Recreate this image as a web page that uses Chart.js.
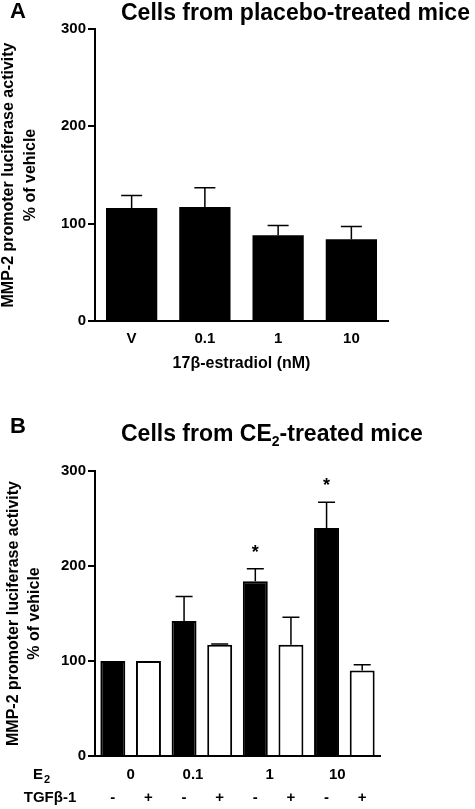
<!DOCTYPE html>
<html>
<head>
<meta charset="utf-8">
<script src="https://cdn.jsdelivr.net/npm/chart.js@4/dist/chart.umd.min.js"></script>
<style>
  html, body { margin: 0; padding: 0; background: #fff; }
  #wrap { position: relative; width: 475px; height: 809px; }
  canvas { position: absolute; left: 0; }
</style>
</head>
<body>
<div id="wrap">
  <canvas id="chartA" width="475" height="400" style="top:0"></canvas>
  <canvas id="chartB" width="475" height="409" style="top:400px"></canvas>
</div>
<script>
// --- Panel A: cells from placebo-treated mice ---
const doseLabels = ['V', '0.1', '1', '10'];
const placeboMeans = [116, 117, 88, 84];
const placeboErrTop = [129, 137, 98, 97];   // mean + SEM

// --- Panel B: cells from CE2-treated mice ---
const ce2Labels = ['0 -', '0 +', '0.1 -', '0.1 +', '1 -', '1 +', '10 -', '10 +'];
const ce2Means = [100, 100, 142, 117, 184, 117, 240, 90];
const ce2ErrTop = [null, null, 168, 118, 197, 146, 267, 96];
const tgfSigns = ['-', '+', '-', '+', '-', '+', '-', '+'];
const e2Doses = ['0', '0.1', '1', '10'];
const e2DosePos = [0.5, 2.25, 4.4, 6.3];   // where the dose label sits along the bar index axis
const starredBars = [4, 6];

const yTicks = [0, 100, 200, 300];

const FONT = "'Liberation Sans', Arial, Helvetica, sans-serif";

function bold(size) { return 'bold ' + size + 'px ' + FONT; }

// error bars (upwards only, with cap)
function errorBarPlugin(errTop, capW) {
    return {
        id: 'errBars',
        afterDatasetsDraw(chart) {
            const ctx = chart.ctx;
            const y = chart.scales.y;
            const meta = chart.getDatasetMeta(0);
            ctx.save();
            ctx.strokeStyle = '#000';
            ctx.lineWidth = 1.5;
            meta.data.forEach((bar, i) => {
                if (errTop[i] == null) return;
                const yt = y.getPixelForValue(errTop[i]);
                ctx.beginPath();
                ctx.moveTo(bar.x, bar.y);
                ctx.lineTo(bar.x, yt);
                ctx.moveTo(bar.x - capW / 2, yt);
                ctx.lineTo(bar.x + capW / 2, yt);
                ctx.stroke();
            });
            ctx.restore();
        }
    };
}

function drawYTitle(ctx, area, x1, x2) {
    const cy = (area.top + area.bottom) / 2;
    ctx.save();
    ctx.fillStyle = '#000';
    ctx.font = bold(16);
    ctx.textAlign = 'center';
    ctx.textBaseline = 'middle';
    ctx.translate(x1, cy);
    ctx.rotate(-Math.PI / 2);
    ctx.fillText('MMP-2 promoter luciferase activity', 0, 0);
    ctx.restore();
    ctx.save();
    ctx.fillStyle = '#000';
    ctx.font = bold(16);
    ctx.textAlign = 'center';
    ctx.textBaseline = 'middle';
    ctx.translate(x2, cy);
    ctx.rotate(-Math.PI / 2);
    ctx.fillText('% of vehicle', 0, 0);
    ctx.restore();
}

function yScaleOpts() {
    return {
        min: 0,
        max: 300,
        afterBuildTicks: s => { s.ticks = yTicks.map(v => ({ value: v })); },
        afterFit: s => { s.width = 95; },
        grid: { drawOnChartArea: false, drawTicks: true, tickLength: 7, color: '#000', lineWidth: 2 },
        border: { display: true, color: '#000', width: 2 },
        ticks: { color: '#000', font: { family: FONT, size: 15, weight: 'bold' }, padding: 2 }
    };
}

// --- Chart A ---
const textA = {
    id: 'textA',
    afterDraw(chart) {
        const ctx = chart.ctx;
        const area = chart.chartArea;
        ctx.save();
        ctx.fillStyle = '#000';
        ctx.textBaseline = 'alphabetic';
        ctx.textAlign = 'left';
        ctx.font = bold(22);
        ctx.fillText('A', 10, 18);
        ctx.font = bold(23);
        ctx.fillText('Cells from placebo-treated mice', 121, 20);
        ctx.font = bold(16);
        ctx.textAlign = 'center';
        ctx.textBaseline = 'middle';
        ctx.fillText('17\u03B2-estradiol (nM)', (area.left + area.right) / 2, 364);
        ctx.restore();
        drawYTitle(ctx, area, 9, 31);
    }
};

new Chart(document.getElementById('chartA'), {
    type: 'bar',
    data: {
        labels: doseLabels,
        datasets: [{
            data: placeboMeans,
            backgroundColor: '#000',
            borderColor: '#000',
            borderWidth: 0,
            barPercentage: 0.7,
            categoryPercentage: 1
        }]
    },
    options: {
        responsive: false,
        animation: false,
        devicePixelRatio: 1,
        layout: { padding: { top: 29, right: 87, left: 0, bottom: 0 } },
        plugins: { legend: { display: false }, tooltip: { enabled: false } },
        scales: {
            x: {
                afterFit: s => { s.height = 79; },
                grid: { display: false, drawTicks: false },
                border: { display: true, color: '#000', width: 2 },
                ticks: { color: '#000', font: { family: FONT, size: 15, weight: 'bold' }, padding: 9 }
            },
            y: yScaleOpts()
        }
    },
    plugins: [errorBarPlugin(placeboErrTop, 21), textA]
});

// --- Chart B ---
const textB = {
    id: 'textB',
    afterDraw(chart) {
        const ctx = chart.ctx;
        const area = chart.chartArea;
        const x = chart.scales.x;
        const y = chart.scales.y;
        ctx.save();
        ctx.fillStyle = '#000';
        ctx.textBaseline = 'alphabetic';
        ctx.textAlign = 'left';
        ctx.font = bold(22);
        ctx.fillText('B', 10, 33);

        // title with subscript
        let tx = 121;
        const base = 41;
        ctx.font = bold(23);
        ctx.fillText('Cells from CE', tx, base);
        tx += ctx.measureText('Cells from CE').width;
        ctx.font = bold(14);
        ctx.fillText('2', tx, base + 5);
        tx += ctx.measureText('2').width;
        ctx.font = bold(23);
        ctx.fillText('-treated mice', tx, base);

        // significance stars
        ctx.font = bold(18);
        ctx.textAlign = 'center';
        starredBars.forEach(i => {
            const yt = y.getPixelForValue(ce2ErrTop[i]);
            ctx.fillText('*', x.getPixelForValue(i), yt - 11);
        });

        // treatment table under the axis
        ctx.font = bold(15);
        ctx.textBaseline = 'middle';
        ctx.textAlign = 'left';
        ctx.fillText('E', 33, 375);
        const ew = ctx.measureText('E').width;
        ctx.font = bold(11);
        ctx.fillText('2', 33 + ew + 1, 380);
        ctx.font = bold(15);
        ctx.textAlign = 'center';
        ctx.fillText('TGF\u03B2-1', 50, 398);
        e2Doses.forEach((d, i) => {
            ctx.fillText(d, x.getPixelForValue(e2DosePos[i]), 375);
        });
        tgfSigns.forEach((s, i) => {
            ctx.fillText(s, x.getPixelForValue(i), 398);
        });
        ctx.restore();
        drawYTitle(ctx, area, 14, 35);
    }
};

new Chart(document.getElementById('chartB'), {
    type: 'bar',
    data: {
        labels: ce2Labels,
        datasets: [{
            data: ce2Means,
            backgroundColor: tgfSigns.map(s => s === '-' ? '#000' : '#fff'),
            borderColor: '#000',
            borderWidth: 2,
            borderSkipped: 'bottom',
            barPercentage: 0.7,
            categoryPercentage: 1
        }]
    },
    options: {
        responsive: false,
        animation: false,
        devicePixelRatio: 1,
        layout: { padding: { top: 71, right: 95, left: 0, bottom: 0 } },
        plugins: { legend: { display: false }, tooltip: { enabled: false } },
        scales: {
            x: {
                afterFit: s => { s.height = 53; },
                grid: { display: false, drawTicks: false },
                border: { display: true, color: '#000', width: 2 },
                ticks: { display: false }
            },
            y: yScaleOpts()
        }
    },
    plugins: [errorBarPlugin(ce2ErrTop, 17), textB]
});
</script>
</body>
</html>
